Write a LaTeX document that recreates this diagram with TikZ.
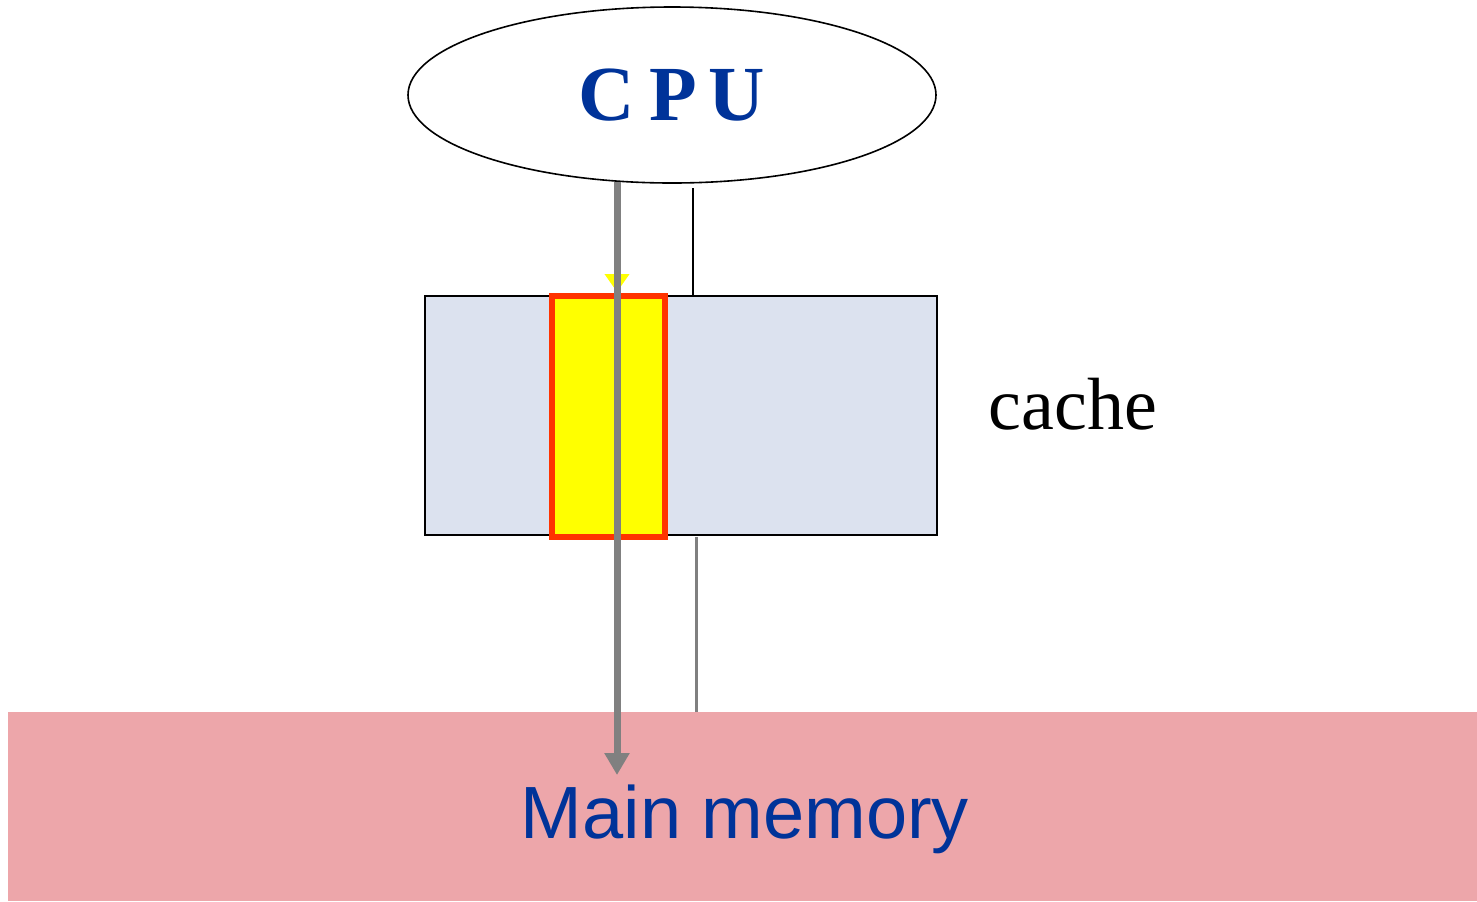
\documentclass[tikz,border=0pt]{standalone}
\usepackage{fontspec}
\setmainfont{Liberation Serif}
\newfontfamily\arialfont{Liberation Sans}
\usetikzlibrary{arrows.meta,shapes.geometric}
\definecolor{cpublue}{HTML}{003399}
\definecolor{cachefill}{HTML}{DCE2EF}
\definecolor{memfill}{HTML}{EDA6AA}
\definecolor{linered}{HTML}{FF3300}
\definecolor{lineyel}{HTML}{FFFF00}

\begin{document}
\begin{tikzpicture}[
  x=0.5pt, y=-0.5pt,
  box/.style     ={rectangle,inner sep=0pt,outer sep=0pt},
  cpunode/.style ={draw,ellipse,line width=0.8pt,minimum width=264pt,minimum height=88pt,
                   font=\fontsize{39}{39}\selectfont\bfseries,text=cpublue},
  cachebox/.style={box,draw,fill=cachefill,line width=0.7pt,minimum width=256pt,minimum height=119.5pt},
  linebox/.style ={box,draw=linered,fill=lineyel,line width=3pt,minimum width=56.5pt,minimum height=120.5pt},
  membox/.style  ={box,fill=memfill,minimum width=734.5pt,minimum height=94.5pt},
  memtext/.style ={anchor=base,inner sep=0pt,font=\arialfont\fontsize{37}{37}\selectfont,text=cpublue},
  busarrow/.style={draw=gray,line width=3.5pt,-{Triangle[width=12pt,length=11pt]}},
  yelarrow/.style={draw=lineyel,line width=2pt,-{Triangle[width=12pt,length=9pt]}},
]
\useasboundingbox (0,0) rectangle (1477,901);

% --- nodes ---
\node[cpunode]  (cpu)   at (672,95)      {C\hspace{7pt}P\hspace{6pt}U};
\node[cachebox] (cache) at (681,415.5)   {};
\node[membox]   (mem)   at (742.5,806.5) {};
\node[memtext]  (memlab) at (745,838)    {Main memory};
\node[font=\fontsize{37}{37}\selectfont] (lab) at (1073,404) {cache};

% --- points on the connectors ---
\coordinate (a1) at (617,182);
\coordinate (a2) at (617,775);
\coordinate (y2) at (617,292);
\coordinate (b1) at (693,188);
\coordinate (b2) at (693,296);
\coordinate (c1) at (696,537);
\coordinate (c2) at (696,712);

% --- connectors ---
\draw[yelarrow] (a1) -- (y2);
\node[linebox]  (line)  at (608.5,416.5) {};
\draw[line width=0.7pt] (b1) -- (b2);
\draw[gray,line width=1.5pt] (c1) -- (c2);
\draw[busarrow] (a1) -- (a2);

\end{tikzpicture}
\end{document}
